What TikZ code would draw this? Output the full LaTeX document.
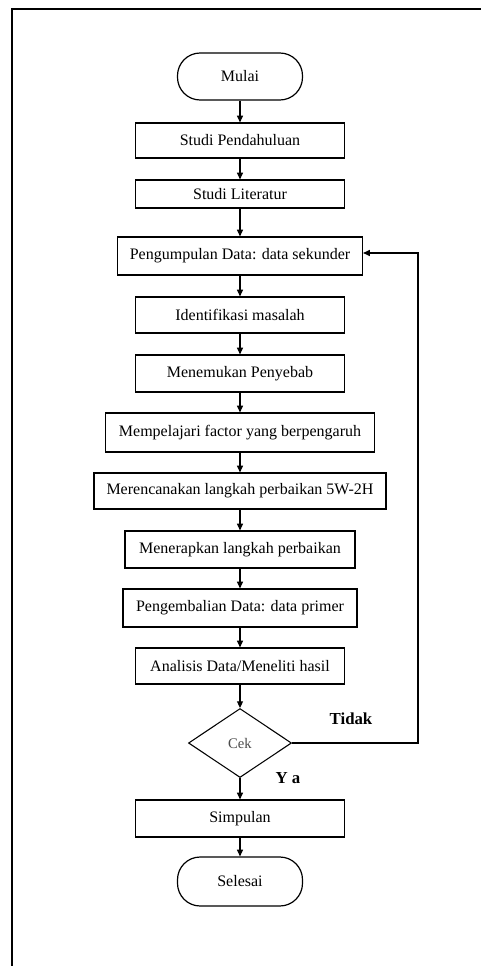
\documentclass[tikz,border=0pt]{standalone}
\usepackage{fontspec}
\setmainfont{Liberation Serif}
\usetikzlibrary{arrows.meta,shapes.geometric}
\begin{document}
\begin{tikzpicture}[x=0.75pt,y=-0.75pt,
  every node/.style={font=\fontsize{12}{14}\selectfont},
  proc/.style={draw,line width=0.9pt,inner sep=0pt,minimum width=#1*0.75pt},
  term/.style={draw,line width=0.9pt,rounded corners=17pt,inner sep=0pt,minimum width=125*0.75pt},
  dec/.style={draw,line width=0.8pt,diamond,inner sep=0pt,minimum width=103*0.75pt,minimum height=69*0.75pt,font=\fontsize{11}{12}\selectfont,text=black!70},
  arr/.style={line width=0.9pt,-{Triangle[length=5pt,width=4.5pt]}},
  lbl/.style={font=\fontsize{12.6}{14}\selectfont\bfseries}]
\useasboundingbox (0,0) rectangle (481,966);
\fill[white] (0,0) rectangle (481,966);
\draw[line width=1.6pt] (12,966) -- (12,9) -- (481,9);
\node[term,minimum height=47*0.75pt] (mulai) at (240,76.5) {Mulai};
\node[proc=209,minimum height=35*0.75pt] (pend) at (240,140.5) {Studi Pendahuluan};
\node[proc=209,minimum height=28*0.75pt] (lit) at (240,194) {Studi Literatur};
\node[proc=245,minimum height=38*0.75pt] (kump) at (240,256) {Pengumpulan Data: data sekunder};
\node[proc=209,minimum height=36*0.75pt] (iden) at (240,315) {Identifikasi masalah};
\node[proc=209,minimum height=37*0.75pt] (temu) at (240,373.5) {Menemukan Penyebab};
\node[proc=269,minimum height=39*0.75pt] (pel) at (240,432.5) {Mempelajari factor yang berpengaruh};
\node[proc=292,minimum height=36*0.75pt] (ren) at (240,491) {Merencanakan langkah perbaikan 5W-2H};
\node[proc=230,minimum height=37*0.75pt] (rap) at (240,549.5) {Menerapkan langkah perbaikan};
\node[proc=234,minimum height=38*0.75pt] (kemb) at (240,608) {Pengembalian Data: data primer};
\node[proc=209,minimum height=36*0.75pt] (anal) at (240,666) {Analisis Data/Meneliti hasil};
\node[dec] (cek) at (240,743) {Cek};
\node[proc=209,minimum height=37*0.75pt] (simp) at (240,818.5) {Simpulan};
\node[term,minimum height=49*0.75pt] (sel) at (240,881.5) {Selesai};
\draw[arr] (mulai) -- (pend);
\draw[arr] (pend) -- (lit);
\draw[arr] (lit) -- (kump);
\draw[arr] (kump) -- (iden);
\draw[arr] (iden) -- (temu);
\draw[arr] (temu) -- (pel);
\draw[arr] (pel) -- (ren);
\draw[arr] (ren) -- (rap);
\draw[arr] (rap) -- (kemb);
\draw[arr] (kemb) -- (anal);
\draw[arr] (anal) -- (cek);
\draw[arr] (cek) -- (simp);
\draw[arr] (simp) -- (sel);
\coordinate (c1) at (418,743);
\coordinate (c2) at (418,253);
\draw[arr] (cek.east) -- (c1) -- (c2) -- (kump.east |- c2);
\node[lbl] (tidak) at (351,719) {Tidak};
\node[lbl] (ya) at (288,778) {Y a};
\end{tikzpicture}
\end{document}
